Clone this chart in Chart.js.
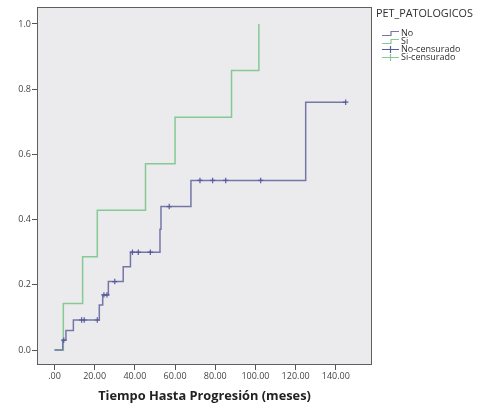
<!DOCTYPE html>
<html>
<head>
<meta charset="utf-8">
<script src="https://cdn.jsdelivr.net/npm/chart.js@4/dist/chart.umd.min.js"></script>
<style>
  html, body { margin: 0; padding: 0; background: #ffffff; }
  #wrap { width: 479px; height: 406px; position: relative; }
</style>
</head>
<body>
<div id="wrap"><canvas id="km"></canvas></div>
<script>
// Kaplan-Meier style cumulative curves by PET_PATOLOGICOS group
const groupTitle = 'PET_PATOLOGICOS';
const seriesNames = ['No', 'Si', 'No-censurado', 'Si-censurado'];

// Group "No": event times (months) and cumulative value after each step
const noTimes  = [0, 4.1, 5.7, 9.4, 22.3, 24.0, 26.8, 34.2, 37.8, 52.5, 53.0, 67.9, 125.0, 144.9];
const noValues = [0, 0.03, 0.06, 0.092, 0.138, 0.169, 0.21, 0.255, 0.30, 0.37, 0.44, 0.52, 0.76, 0.76];

// Group "Si"
const siTimes  = [0, 4.4, 14.0, 21.3, 45.3, 60.0, 88.1, 101.7];
const siValues = [0, 0.143, 0.286, 0.429, 0.571, 0.714, 0.857, 1.0];

// Censored observations, group "No"
const noCensorTimes  = [4.6, 13.5, 14.8, 21.3, 24.6, 26.1, 30.0, 38.8, 41.7, 47.7, 57.1, 72.4, 78.7, 85.2, 102.6, 144.9];
const noCensorValues = [0.03, 0.092, 0.092, 0.092, 0.169, 0.169, 0.21, 0.30, 0.30, 0.30, 0.44, 0.52, 0.52, 0.52, 0.52, 0.76];

// Censored observations, group "Si" (none)
const siCensorTimes  = [];
const siCensorValues = [];

// Axis ticks
const xTicks = [0, 20, 40, 60, 80, 100, 120, 140];
const yTicks = [0, 0.2, 0.4, 0.6, 0.8, 1.0];

const xyPairs = (xs, ys) => xs.map((x, i) => ({ x: x, y: ys[i] }));

const blueLine = '#7476a8';
const blueMark = '#585b9c';
const greenLine = '#86c994';
const fontFamily = '"Open Sans", "DejaVu Sans", sans-serif';

// Plot panel background and frame
const panelPlugin = {
  id: 'panel',
  beforeDatasetsDraw(chart) {
    const a = chart.chartArea, c = chart.ctx;
    c.save();
    c.fillStyle = '#ebebed';
    c.fillRect(a.left, a.top, a.right - a.left, a.bottom - a.top);
    c.restore();
  },
  afterDraw(chart) {
    const a = chart.chartArea, c = chart.ctx;
    c.save();
    c.strokeStyle = '#5f5f5f';
    c.lineWidth = 1;
    c.strokeRect(a.left + 0.5, a.top + 0.5, a.right - a.left - 1, a.bottom - a.top - 1);
    c.restore();
  }
};

// Legend to the right of the panel
const sideLegend = {
  id: 'sideLegend',
  afterDraw(chart) {
    const c = chart.ctx;
    c.save();
    c.fillStyle = '#2e2e2e';
    c.textBaseline = 'middle';
    c.font = '10.8px ' + fontFamily;
    c.fillText(groupTitle, 376, 14);
    c.font = '9px ' + fontFamily;
    const rows = [33, 41, 49.5, 57.5];
    chart.data.datasets.forEach((ds, i) => {
      const y = rows[i];
      const ix = 382;
      c.strokeStyle = ds.borderColor;
      c.lineWidth = 1.2;
      c.beginPath();
      if (ds.showLine) {
        c.moveTo(ix, y + 2.5);
        c.lineTo(ix + 9, y + 2.5);
        c.lineTo(ix + 9, y - 1.5);
        c.lineTo(ix + 17, y - 1.5);
      } else {
        c.moveTo(ix, y);
        c.lineTo(ix + 17, y);
        c.moveTo(ix + 8.5, y - 3.5);
        c.lineTo(ix + 8.5, y + 3.5);
      }
      c.stroke();
      c.fillStyle = '#2e2e2e';
      c.fillText(ds.label, 401, y);
    });
    c.restore();
  }
};

new Chart(document.getElementById('km'), {
  type: 'line',
  data: {
    datasets: [
      {
        label: seriesNames[0],
        data: xyPairs(noTimes, noValues),
        borderColor: blueLine,
        borderWidth: 1.5,
        stepped: 'before',
        pointRadius: 0,
        showLine: true,
        order: 1
      },
      {
        label: seriesNames[1],
        data: xyPairs(siTimes, siValues),
        borderColor: greenLine,
        borderWidth: 1.5,
        stepped: 'before',
        pointRadius: 0,
        showLine: true,
        order: 2
      },
      {
        label: seriesNames[2],
        data: xyPairs(noCensorTimes, noCensorValues),
        borderColor: blueMark,
        backgroundColor: blueMark,
        showLine: false,
        pointStyle: 'cross',
        pointRadius: 2.7,
        pointBorderWidth: 1.2,
        order: 0
      },
      {
        label: seriesNames[3],
        data: xyPairs(siCensorTimes, siCensorValues),
        borderColor: greenLine,
        backgroundColor: greenLine,
        showLine: false,
        pointStyle: 'cross',
        pointRadius: 2.7,
        order: 0
      }
    ]
  },
  options: {
    responsive: true,
    maintainAspectRatio: false,
    animation: false,
    layout: { padding: { left: 0, top: 7, right: 107, bottom: 0 } },
    plugins: { legend: { display: false }, tooltip: { enabled: false } },
    scales: {
      x: {
        type: 'linear',
        min: -8.7,
        max: 158,
        afterBuildTicks(scale) { scale.ticks = xTicks.map(v => ({ value: v })); },
        afterFit(scale) { scale.height = 41; },
        grid: { drawOnChartArea: false, drawTicks: true, tickLength: 5, color: '#555555' },
        border: { display: false },
        ticks: {
          padding: 1,
          maxRotation: 0,
          color: '#444444',
          font: { family: fontFamily, size: 9 },
          callback: v => v === 0 ? '.00' : Number(v).toFixed(2)
        },
        title: {
          display: true,
          text: 'Tiempo Hasta Progresión (meses)',
          color: '#222222',
          font: { family: fontFamily, size: 12.8, weight: 'bold' },
          padding: { top: 0, bottom: 2 }
        }
      },
      y: {
        type: 'linear',
        min: -0.046,
        max: 1.052,
        afterBuildTicks(scale) { scale.ticks = yTicks.map(v => ({ value: v })); },
        afterFit(scale) { scale.width = 37; },
        grid: { drawOnChartArea: false, drawTicks: true, tickLength: 5, color: '#555555' },
        border: { display: false },
        ticks: {
          padding: 1,
          color: '#444444',
          font: { family: fontFamily, size: 9 },
          callback: v => Number(v).toFixed(1)
        }
      }
    }
  },
  plugins: [panelPlugin, sideLegend]
});
</script>
</body>
</html>
